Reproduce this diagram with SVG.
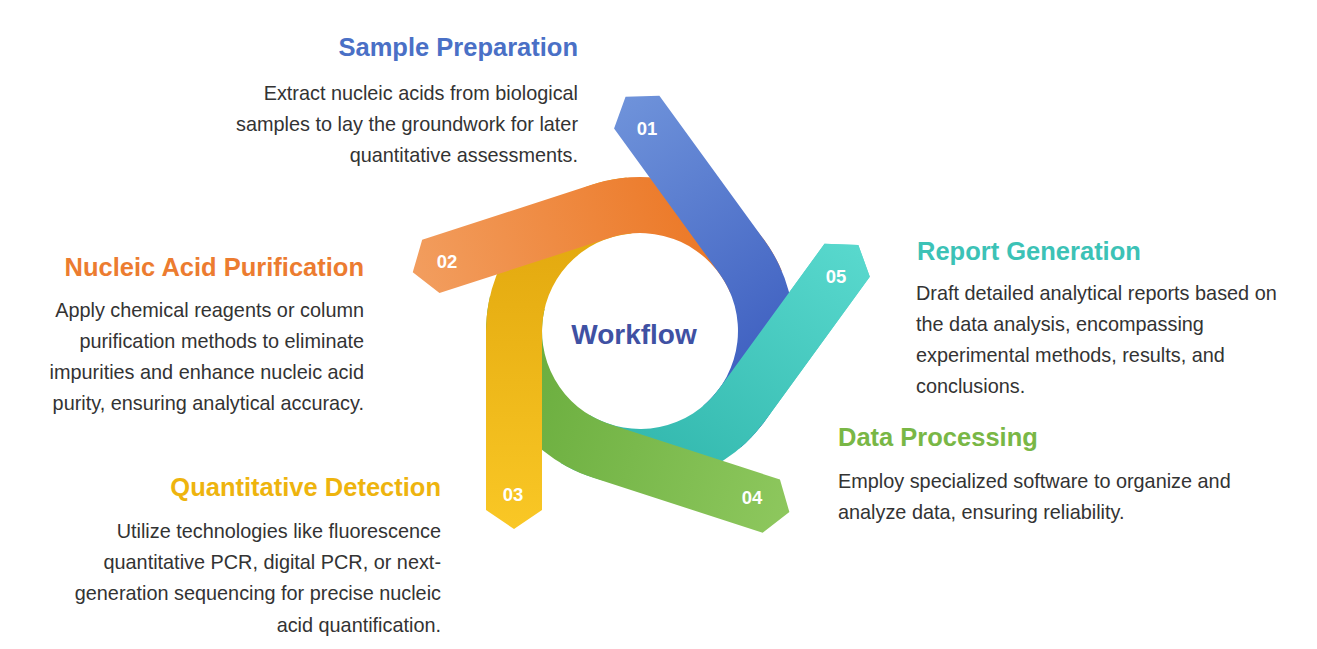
<svg xmlns="http://www.w3.org/2000/svg" xmlns:xlink="http://www.w3.org/1999/xlink" width="1317" height="649" viewBox="0 0 1317 649">
  <style>
    .title { font-family: "Liberation Sans", Arial, sans-serif; font-weight: bold; font-size: 25.5px; }
    .body { font-family: "Liberation Sans", Arial, sans-serif; font-size: 19.85px; fill: #333333; }
    .num { font-family: "Liberation Sans", Arial, sans-serif; font-weight: bold; font-size: 18.5px; fill: #ffffff; text-anchor: middle; }
    .center { font-family: "Liberation Sans", Arial, sans-serif; font-weight: bold; font-size: 28px; fill: #3F51A3; text-anchor: middle; }
    .r { text-anchor: end; }
  </style>
  <defs>
    <path id="arrowShape" d="M 626.6 177.6 A 154 154 0 0 0 486 331 L 486 510 L 514 529 L 542 510 L 542 331 A 98 98 0 0 1 631.5 233.4 Z"/>
    <linearGradient id="gBlue" gradientUnits="userSpaceOnUse" x1="514" y1="525" x2="514" y2="200">
      <stop offset="0" stop-color="#6E92DA"/><stop offset="1" stop-color="#3A5BBE"/>
    </linearGradient>
    <linearGradient id="gOrange" gradientUnits="userSpaceOnUse" x1="514" y1="525" x2="514" y2="200">
      <stop offset="0" stop-color="#F29D5E"/><stop offset="1" stop-color="#EB7420"/>
    </linearGradient>
    <linearGradient id="gYellow" gradientUnits="userSpaceOnUse" x1="514" y1="525" x2="514" y2="200">
      <stop offset="0" stop-color="#F9C725"/><stop offset="1" stop-color="#E0A50C"/>
    </linearGradient>
    <linearGradient id="gGreen" gradientUnits="userSpaceOnUse" x1="514" y1="525" x2="514" y2="200">
      <stop offset="0" stop-color="#8DC75D"/><stop offset="1" stop-color="#67AB3B"/>
    </linearGradient>
    <linearGradient id="gTeal" gradientUnits="userSpaceOnUse" x1="514" y1="525" x2="514" y2="200">
      <stop offset="0" stop-color="#58D8CD"/><stop offset="1" stop-color="#2FB5AB"/>
    </linearGradient>
    <clipPath id="tealOverBlue">
      <polygon points="640,331 865,201 896,376 807,530"/>
    </clipPath>
  </defs>
  <rect x="0" y="0" width="1317" height="649" fill="#ffffff"/>

  <g id="arrows">
    <g id="arrow05"><use xlink:href="#arrowShape" href="#arrowShape" transform="rotate(216 640 331)" fill="url(#gTeal)"/></g>
    <g id="arrow04"><use xlink:href="#arrowShape" href="#arrowShape" transform="rotate(288 640 331)" fill="url(#gGreen)"/></g>
    <g id="arrow03"><use xlink:href="#arrowShape" href="#arrowShape" fill="url(#gYellow)"/></g>
    <g id="arrow02"><use xlink:href="#arrowShape" href="#arrowShape" transform="rotate(72 640 331)" fill="url(#gOrange)"/></g>
    <g id="arrow01"><use xlink:href="#arrowShape" href="#arrowShape" transform="rotate(144 640 331)" fill="url(#gBlue)"/></g>
    <g id="arrow05-overlap" clip-path="url(#tealOverBlue)"><use xlink:href="#arrowShape" href="#arrowShape" transform="rotate(216 640 331)" fill="url(#gTeal)"/></g>
  </g>

  <g id="labels">
    <text class="num" x="647" y="135">01</text>
    <text class="num" x="447" y="268">02</text>
    <text class="num" x="513" y="501">03</text>
    <text class="num" x="752" y="504">04</text>
    <text class="num" x="836" y="283">05</text>
  </g>

  <g id="center"><text class="center" x="634" y="344">Workflow</text></g>

  <g id="step01">
    <text class="title r" x="578" y="56" fill="#4A70C6">Sample Preparation</text>
    <text class="body r" x="578" y="100">Extract nucleic acids from biological</text>
    <text class="body r" x="578" y="131">samples to lay the groundwork for later</text>
    <text class="body r" x="578" y="162">quantitative assessments.</text>
  </g>
  <g id="step02">
    <text class="title r" x="364" y="276" fill="#EC7C30">Nucleic Acid Purification</text>
    <text class="body r" x="364" y="317">Apply chemical reagents or column</text>
    <text class="body r" x="364" y="348">purification methods to eliminate</text>
    <text class="body r" x="364" y="379">impurities and enhance nucleic acid</text>
    <text class="body r" x="364" y="410">purity, ensuring analytical accuracy.</text>
  </g>
  <g id="step03">
    <text class="title r" x="441" y="496" fill="#EEB40E">Quantitative Detection</text>
    <text class="body r" x="441" y="538">Utilize technologies like fluorescence</text>
    <text class="body r" x="441" y="569">quantitative PCR, digital PCR, or next-</text>
    <text class="body r" x="441" y="600">generation sequencing for precise nucleic</text>
    <text class="body r" x="441" y="632">acid quantification.</text>
  </g>
  <g id="step04">
    <text class="title" x="838" y="446" fill="#79B746">Data Processing</text>
    <text class="body" x="838" y="488">Employ specialized software to organize and</text>
    <text class="body" x="838" y="519">analyze data, ensuring reliability.</text>
  </g>
  <g id="step05">
    <text class="title" x="917" y="260" fill="#3CC2B6">Report Generation</text>
    <text class="body" x="916" y="300">Draft detailed analytical reports based on</text>
    <text class="body" x="916" y="331">the data analysis, encompassing</text>
    <text class="body" x="916" y="362">experimental methods, results, and</text>
    <text class="body" x="916" y="393">conclusions.</text>
  </g>
</svg>
